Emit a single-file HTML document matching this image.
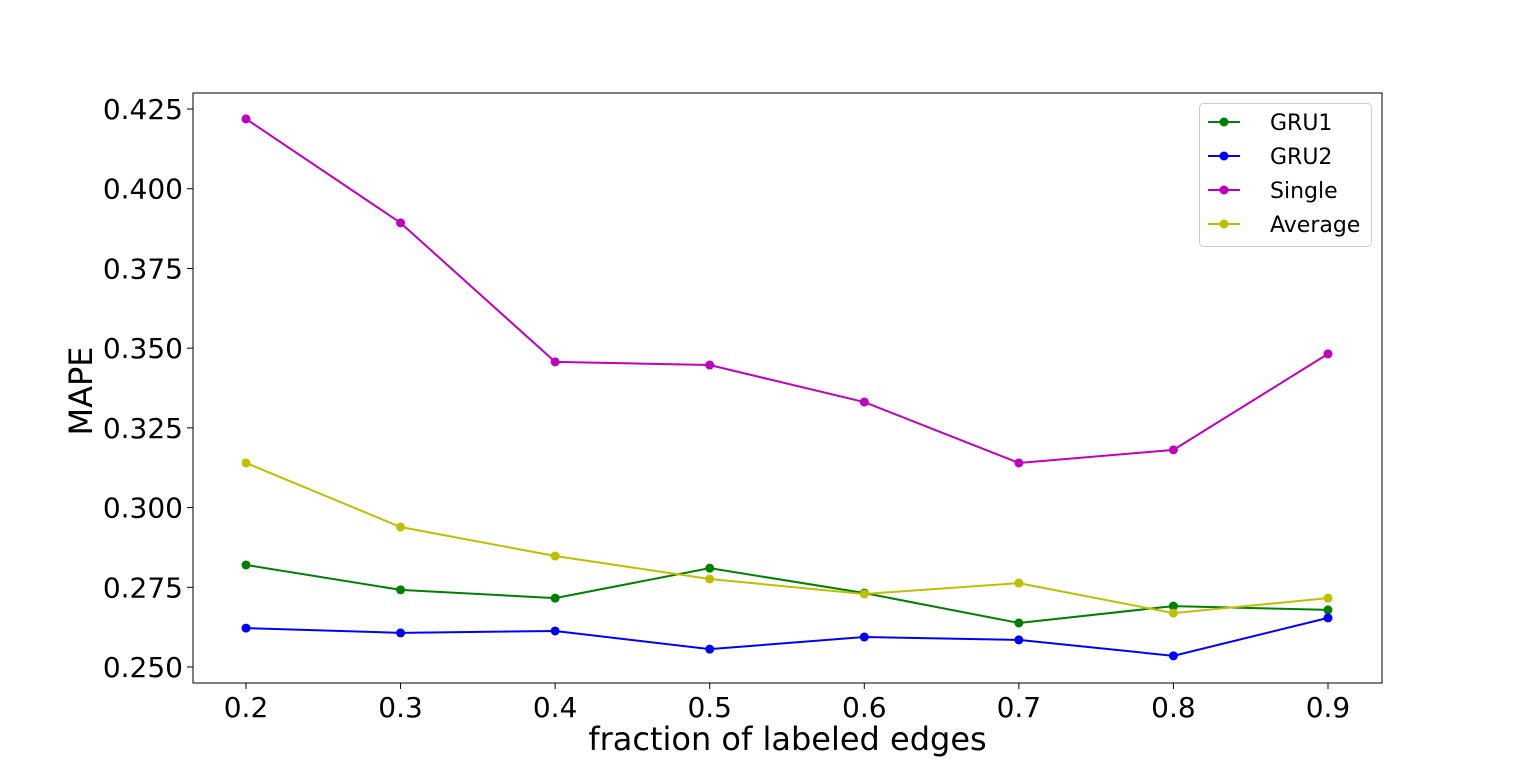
<!DOCTYPE html>
<html><head><meta charset="utf-8"><style>
html,body{margin:0;padding:0;background:#fff;}
svg{display:block;font-family:"DejaVu Sans","Liberation Sans",sans-serif;}
</style></head><body>
<svg id="chart" width="1536" height="767"></svg>
<script>
const categories=[0.2,0.3,0.4,0.5,0.6,0.7,0.8,0.9];
const yTicks=[0.250,0.275,0.300,0.325,0.350,0.375,0.400,0.425];
const seriesNames=["GRU1","GRU2","Single","Average"];
const gru1=[0.2820,0.2742,0.2716,0.2810,0.2732,0.2638,0.2691,0.2679];
const gru2=[0.2622,0.2607,0.2613,0.2556,0.2594,0.2585,0.2535,0.2654];
const single=[0.4219,0.3893,0.3457,0.3447,0.3331,0.3140,0.3181,0.3482];
const average=[0.3140,0.2939,0.2848,0.2776,0.2729,0.2763,0.2669,0.2716];

const NS="http://www.w3.org/2000/svg";
const svg=document.getElementById('chart');
const L=193,R=1382,T=93,B=683;
const xS=v=>246+(v-0.2)/0.1*154.57;
const yS=v=>667-(v-0.25)/0.025*79.71;
function mk(tag,attrs,parent){const e=document.createElementNS(NS,tag);for(const k in attrs)e.setAttribute(k,attrs[k]);(parent||svg).appendChild(e);return e;}

const frame=mk('rect',{x:L,y:T,width:R-L,height:B-T,fill:'none',stroke:'#000','stroke-width':1});



categories.forEach(c=>{
  const x=xS(c);
  const t=mk('line',{x1:x,x2:x,y1:B,y2:B+6,stroke:'#000'});
  
  
  const tx=mk('text',{x:x,y:B+34,'text-anchor':'middle','font-size':28,fill:'#000'});
  tx.textContent=c.toFixed(1);
  
  
});
yTicks.forEach(v=>{
  const y=yS(v);
  const t=mk('line',{x1:L-6,x2:L,y1:y,y2:y,stroke:'#000'});
  
  
  const tx=mk('text',{x:L-10,y:y+10,'text-anchor':'end','font-size':28,fill:'#000'});
  tx.textContent=v.toFixed(3);
  
  
});
const xt=mk('text',{x:(L+R)/2,y:750,'text-anchor':'middle','font-size':32,fill:'#000'});
xt.textContent='fraction of labeled edges';


const yt=mk('text',{x:0,y:0,'text-anchor':'middle','font-size':32,fill:'#000',transform:'translate(92,391) rotate(-90)'});
yt.textContent='MAPE';



const all=[gru1,gru2,single,average];
const colors=['#008000','#0000ff','#bf00bf','#bfbf00'];
all.forEach((s,i)=>{
  const g=mk('g',{});
  
  
  const pts=s.map((v,j)=>xS(categories[j])+','+yS(v)).join(' ');
  const pl=mk('polyline',{points:pts,fill:'none',stroke:colors[i],'stroke-width':2},g);
  
  
  s.forEach((v,j)=>{
    const c=mk('circle',{cx:xS(categories[j]),cy:yS(v),r:4.5,fill:colors[i]},g);
    
    
  });
});

const lg=mk('g',{});


mk('rect',{x:1199.5,y:103.5,width:172,height:143,rx:4,fill:'#fff',stroke:'#ccc'},lg);
seriesNames.forEach((n,i)=>{
  const y=122+i*34;
  const e=mk('g',{},lg);
  
  
  mk('line',{x1:1208,x2:1240,y1:y,y2:y,stroke:colors[i],'stroke-width':2},e);
  mk('circle',{cx:1224,cy:y,r:4.5,fill:colors[i]},e);
  const t=mk('text',{x:1270,y:y+8,'font-size':22,fill:'#000'},e);
  t.textContent=n;
});
</script>
</body></html>
